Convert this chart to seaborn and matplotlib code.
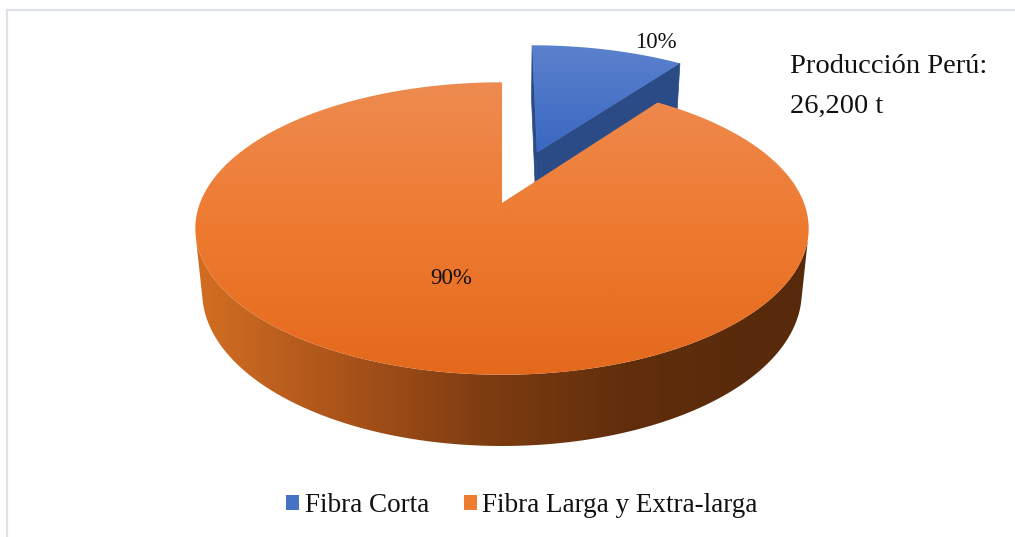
import numpy as np
import matplotlib
matplotlib.use("Agg")
import matplotlib.pyplot as plt
import seaborn as sns
from matplotlib.patches import Polygon, Patch
from matplotlib.lines import Line2D

# ---- data -------------------------------------------------------------
categories = ["Fibra Corta", "Fibra Larga y Extra-larga"]
shares = [10, 90]
pct_labels = ["10%", "90%"]
note_lines = ["Producción Perú:", "26,200 t"]

# ---- styling ------------------------------------------------------------
top_colors = [["#5c82cd", "#3a67c2"], ["#ee8b50", "#ee7a30", "#e4691c"]]
cut_colors = ["#2b4b86", "#7a3a10"]
side_colors = [["#2b4b86", "#223f76"],
               ["#cf6c22", "#a8521a", "#7e3c11", "#612e0c", "#582a0b"]]
legend_colors = ["#4472c4", "#ed7d31"]
explode = [0.40, 0.0]
label_place = [(1.175, 8.0), (0.5, 0.0)]   # (radius, angle shift) per slice

W, H = 1015, 537
sns.set_theme(style="white")
plt.rcParams["font.family"] = ["Liberation Serif", "DejaVu Serif"]

fig = plt.figure(figsize=(W / 100, H / 100), dpi=100)
ax = fig.add_axes([0, 0, 1, 1])
ax.set_xlim(0, W)
ax.set_ylim(H, 0)
ax.axis("off")

# ---- simple perspective camera for a tilted disc -----------------------
ELEV = np.radians(28.0)
DIST = 5.06
FOCAL = 1528.0
CX, CY = 502.0, 203.0
THICK = 0.241
SE, CE = np.sin(ELEV), np.cos(ELEV)
CAM = np.array([0.0, -DIST * CE, DIST * SE])


def project(X, Y, Z):
    X, Y, Z = np.asarray(X, float), np.asarray(Y, float), np.asarray(Z, float)
    zc = DIST + Y * CE - Z * SE
    return CX + FOCAL * X / zc, CY - FOCAL * (Y * SE + Z * CE) / zc


def grad_fill(verts, colors, zorder, horizontal=False, span=None):
    verts = np.asarray(verts)
    patch = Polygon(verts, closed=True, facecolor="none", edgecolor="none",
                    zorder=zorder)
    ax.add_patch(patch)
    x0, y0 = verts.min(axis=0)
    x1, y1 = verts.max(axis=0)
    cmap = sns.blend_palette(colors, n_colors=256, as_cmap=True)
    if horizontal:
        lo, hi = span if span else (x0, x1)
        xs = np.linspace(x0, x1, 400)
        g = np.clip((xs - lo) / (hi - lo), 0, 1)[None, :]
    else:
        lo, hi = span if span else (y0, y1)
        ys = np.linspace(y0, y1, 400)
        g = np.clip((ys - lo) / (hi - lo), 0, 1)[:, None]
    im = ax.imshow(g, cmap=cmap, vmin=0, vmax=1, extent=(x0, x1, y1, y0),
                   aspect="auto", interpolation="bilinear", zorder=zorder)
    im.set_clip_path(patch)
    ax.set_xlim(0, W)
    ax.set_ylim(H, 0)


total = float(sum(shares))
bounds = np.concatenate([[0.0], np.cumsum(shares) / total * 360.0])
rim_x0, rim_y0 = project(-1.0, 0.0, 0.0)
rim_x1, _ = project(1.0, 0.0, 0.0)

for i, share in enumerate(shares):
    a0, a1 = bounds[i], bounds[i + 1]
    mid = np.radians((a0 + a1) / 2)
    ox, oy = explode[i] * np.sin(mid), explode[i] * np.cos(mid)
    phi = np.radians(np.linspace(a0, a1, 400))
    z = 3 * i

    # outer wall, only where it faces the camera
    rx, ry = ox + np.sin(phi), oy + np.cos(phi)
    facing = (CAM[0] - rx) * np.sin(phi) + (CAM[1] - ry) * np.cos(phi) > 0
    if facing.any():
        p = phi[facing]
        tx, ty = project(ox + np.sin(p), oy + np.cos(p), 0.0)
        bx, by = project(ox + np.sin(p), oy + np.cos(p), -THICK)
        verts = np.column_stack([np.concatenate([tx, bx[::-1]]),
                                 np.concatenate([ty, by[::-1]])])
        grad_fill(verts, side_colors[i], z, horizontal=True,
                  span=(rim_x0 + 10, rim_x1 - 40))

    # radial cut faces
    for ang, turn in ((a0, -90.0), (a1, 90.0)):
        a = np.radians(ang)
        n = np.array([np.sin(a + np.radians(turn)), np.cos(a + np.radians(turn))])
        if (CAM[0] - ox) * n[0] + (CAM[1] - oy) * n[1] <= 0:
            continue
        if share == max(shares):
            continue
        ex, ey = ox + np.sin(a), oy + np.cos(a)
        qx, qy = project([ox, ex, ex, ox], [oy, ey, ey, oy],
                         [0.0, 0.0, -THICK, -THICK])
        ax.add_patch(Polygon(np.column_stack([qx, qy]), closed=True,
                             facecolor=cut_colors[i], edgecolor=cut_colors[i],
                             lw=0.5, zorder=z + 1))

    # top face
    tx, ty = project(ox + np.sin(phi), oy + np.cos(phi), 0.0)
    cx_, cy_ = project(ox, oy, 0.0)
    verts = np.column_stack([np.concatenate([[cx_], tx]),
                             np.concatenate([[cy_], ty])])
    grad_fill(verts, top_colors[i], z + 2)

    # percentage label
    rad, shift = label_place[i]
    la = mid + np.radians(shift)
    lx, ly = project(ox + rad * np.sin(la), oy + rad * np.cos(la), 0.0)
    ax.text(lx, ly + 2, pct_labels[i], ha="center", va="center", fontsize=16.5,
            color="#111111", zorder=20)

# annotation at upper right
ax.text(790, 73, note_lines[0], ha="left", va="baseline", fontsize=20.5,
        color="#111111", zorder=20)
ax.text(790, 113, note_lines[1], ha="left", va="baseline", fontsize=20.5,
        color="#111111", zorder=20)

# legend
handles = [Patch(facecolor=col, edgecolor="none") for col in legend_colors]
fig.legend(handles, categories, loc="center", ncol=2, frameon=False,
           bbox_to_anchor=(522 / W, 1 - 506 / H), fontsize=19.5,
           handlelength=0.48, handleheight=0.48, handletextpad=0.2,
           columnspacing=1.3, borderpad=0, labelcolor="#111111")

# light frame on the top and left edges
fig.add_artist(Line2D([7 / W, 7 / W], [0, 1 - 10 / H], transform=fig.transFigure,
                      color="#dde1e8", lw=1.6))
fig.add_artist(Line2D([7 / W, 1], [1 - 10 / H, 1 - 10 / H],
                      transform=fig.transFigure, color="#dde1e8", lw=1.6))

fig.savefig("out.png", dpi=100, facecolor="white")
